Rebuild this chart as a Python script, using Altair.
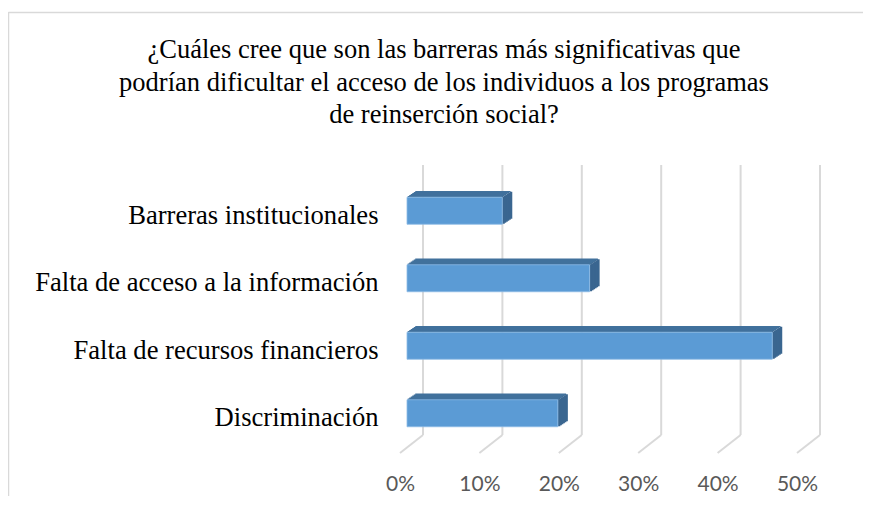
import altair as alt
import pandas as pd

categories = ["Barreras institucionales\u00a0", "Falta de acceso a la información",
              "Falta de recursos financieros", "Discriminación"]
values = [0.12, 0.23, 0.46, 0.19]
ticks = [0.0, 0.1, 0.2, 0.3, 0.4, 0.5]
title_lines = ["¿Cuáles cree que son las barreras más significativas que",
               "podrían dificultar el acceso de los individuos a los programas",
               "de reinserción social?"]

df = pd.DataFrame({"cat": categories, "val": values})
tdf = pd.DataFrame({"t": ticks})

SERIF = "Times New Roman"

W, H = 397, 270
xs = alt.Scale(domain=[0, 0.5], range=[0, W], nice=False, zero=True)
ys = alt.Scale(domain=categories, range=[0, H], paddingInner=0, paddingOuter=0)

FRONT = "#5b9bd5"
TOP = "#41719c"
SIDE = "#3a6690"
GRID = "#d9d9d9"
DX, DY = 9, 6
X0 = 7
YSHIFT = -5
BH = 27

xax = alt.Axis(format="%", values=ticks, grid=False, domain=False, ticks=False,
               labelFont="Lato", labelFontSize=21, labelColor="#595959",
               labelPadding=21, labelFlush=False, labelOverlap=False, title=None)
yax = alt.Axis(grid=False, domain=False, ticks=False, labelFont=SERIF,
               labelFontSize=26.6, labelColor="#000000", labelPadding=22,
               labelLimit=500, title=None)

layers = []

# chart frame (top and left edges)
layers.append(alt.Chart(df.head(1)).mark_rule(color=GRID, strokeWidth=1.5).encode(
    x=alt.value(-391.5), x2=alt.value(700), y=alt.value(-169.5)))
layers.append(alt.Chart(df.head(1)).mark_rule(color=GRID, strokeWidth=1.5).encode(
    x=alt.value(-391.5), y=alt.value(-170), y2=alt.value(500)))

# back wall gridlines
layers.append(alt.Chart(tdf).mark_rule(color=GRID, strokeWidth=2, xOffset=23).encode(
    x=alt.X("t:Q", scale=xs, axis=xax), y=alt.value(-17), y2=alt.value(253)))
# floor diagonals
layers.append(alt.Chart(tdf).mark_rule(color=GRID, strokeWidth=2, xOffset=23, x2Offset=0).encode(
    x=alt.X("t:Q", scale=xs), x2="t:Q", y=alt.value(253), y2=alt.value(271)))

N = 6
for i in range(N):
    t = (i + 0.5) / N
    layers.append(alt.Chart(df).mark_bar(
        color=TOP, size=1.6, xOffset=X0 + DX * t, x2Offset=X0 + DX * t,
        yOffset=YSHIFT - BH / 2 - DY * t).encode(
        x=alt.X("val:Q", scale=xs), y=alt.Y("cat:N", scale=ys, axis=yax)))
    layers.append(alt.Chart(df).mark_bar(
        color=SIDE, size=BH, xOffset=X0 + DX * i / N, x2Offset=X0 + DX * (i + 1) / N + 1.0,
        yOffset=YSHIFT - DY * t).encode(
        x=alt.X("val:Q", scale=xs), x2="val:Q", y=alt.Y("cat:N", scale=ys)))

layers.append(alt.Chart(df).mark_bar(
    color=FRONT, size=BH, xOffset=X0, x2Offset=X0, yOffset=YSHIFT,
    stroke="#8dbbe6", strokeWidth=0.8).encode(
    x=alt.X("val:Q", scale=xs), y=alt.Y("cat:N", scale=ys)))

layers.append(alt.Chart(df.head(1)).mark_text(
    font=SERIF, fontSize=26.5, color="#000000", align="center",
    baseline="middle", lineHeight=32.5).encode(
    x=alt.value(44), y=alt.value(-132), text=alt.value(title_lines)))

chart = alt.layer(*layers).properties(
    width=W, height=H,
    autosize=alt.AutoSizeParams(type="none"),
    padding={"left": 392, "top": 174, "right": 66, "bottom": 44},
).configure_view(stroke=None)

chart.save("out.html", embed_options={"renderer": "svg", "actions": False})
